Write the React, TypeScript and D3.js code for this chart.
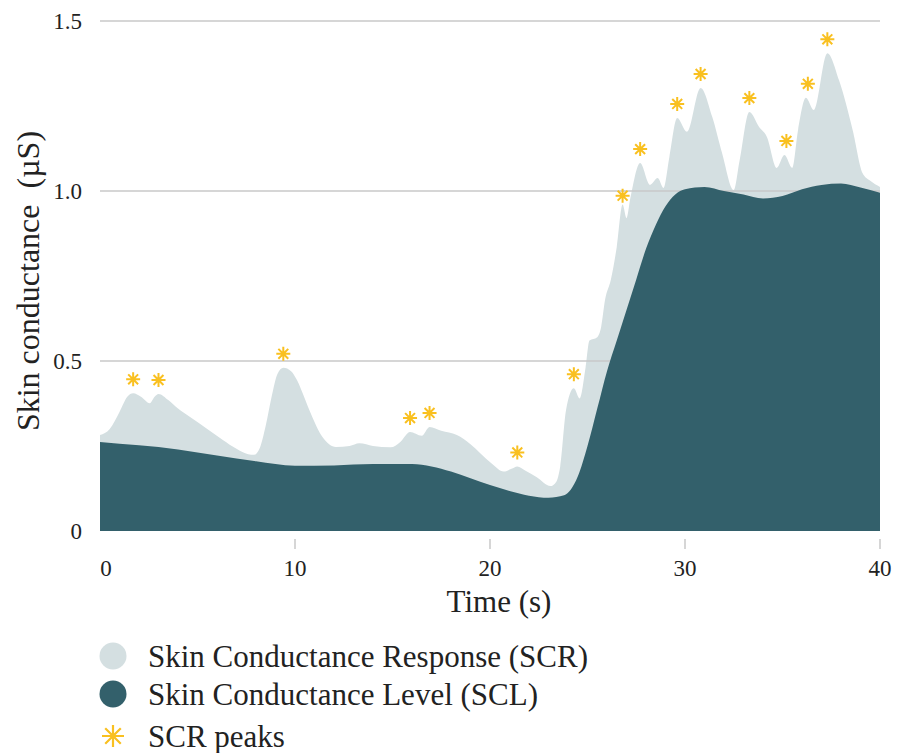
import React, { useEffect, useRef } from 'react';
import * as d3 from 'd3';

// SCR total signal (time in s, conductance in µS)
const scrTimes = [0, 0.5, 1.0, 1.4, 1.7, 2.1, 2.55, 2.8, 3.0, 3.5, 4.0, 4.6, 5.5, 6.3, 7.0, 7.6, 7.9, 8.2, 8.5, 8.8, 9.1, 9.4, 9.8, 10.1, 10.5, 10.8, 11.4, 12.1, 12.8, 13.3, 14.0, 14.9, 15.4, 15.9, 16.5, 16.9, 17.5, 18.3, 19.0, 19.5, 20.1, 20.7, 21.1, 21.4, 21.8, 22.4, 23.1, 23.4, 23.6, 23.9, 24.3, 24.6, 24.9, 25.1, 25.5, 25.7, 25.9, 26.2, 26.5, 26.8, 27.0, 27.2, 27.7, 28.2, 28.6, 28.9, 29.2, 29.6, 30.1, 30.8, 31.4, 31.9, 32.5, 32.8, 33.3, 33.8, 34.2, 34.7, 35.1, 35.5, 35.8, 36.2, 36.6, 37.3, 37.9, 38.6, 39.1, 39.5, 40.0];
const scrValues = [0.282, 0.3, 0.35, 0.395, 0.405, 0.395, 0.376, 0.395, 0.403, 0.385, 0.36, 0.336, 0.3, 0.268, 0.242, 0.226, 0.224, 0.245, 0.31, 0.395, 0.462, 0.48, 0.47, 0.444, 0.39, 0.347, 0.277, 0.247, 0.25, 0.258, 0.25, 0.246, 0.262, 0.291, 0.28, 0.306, 0.295, 0.282, 0.255, 0.229, 0.198, 0.175, 0.183, 0.19, 0.178, 0.158, 0.132, 0.145, 0.19, 0.356, 0.42, 0.39, 0.48, 0.56, 0.57, 0.6, 0.68, 0.74, 0.835, 0.96, 0.92, 0.98, 1.082, 1.018, 1.038, 1.009, 1.1, 1.215, 1.174, 1.303, 1.218, 1.112, 1.003, 1.09, 1.232, 1.188, 1.159, 1.068, 1.106, 1.068, 1.18, 1.274, 1.238, 1.405, 1.326, 1.179, 1.053, 1.03, 1.012];

// SCL tonic level
const sclTimes = [0, 2, 4, 6, 8, 10, 12, 14, 16, 17, 18, 19, 20, 21, 22, 23, 23.8, 24.5, 25, 25.5, 26, 26.5, 27, 27.5, 28, 28.5, 29, 29.5, 30, 31, 32, 33, 34, 35, 36, 37, 38, 39, 40];
const sclValues = [0.262, 0.252, 0.24, 0.222, 0.205, 0.192, 0.193, 0.197, 0.197, 0.19, 0.175, 0.155, 0.135, 0.118, 0.104, 0.098, 0.105, 0.16, 0.25, 0.36, 0.47, 0.56, 0.65, 0.74, 0.83, 0.9, 0.955, 0.99, 1.005, 1.012, 1.0, 0.99, 0.978, 0.985, 1.005, 1.018, 1.022, 1.01, 0.995];

// detected SCR peaks
const peakTimes = [1.7, 3.0, 9.4, 15.9, 16.9, 21.4, 24.3, 26.8, 27.7, 29.6, 30.8, 33.3, 35.2, 36.3, 37.3];
const peakValues = [0.405, 0.403, 0.48, 0.291, 0.306, 0.19, 0.42, 0.945, 1.082, 1.215, 1.303, 1.232, 1.106, 1.274, 1.405];

const xTicks = [0, 10, 20, 30, 40];
const yTicks = [0, 0.5, 1.0, 1.5];

const legendLabels = ['Skin Conductance Response (SCR)', 'Skin Conductance Level (SCL)', 'SCR peaks'];

const LIGHT = '#d4dfe1';
const DARK = '#33606b';
const GOLD = '#f9c020';
const FONT = "'Liberation Serif', 'Times New Roman', 'DejaVu Serif', serif";

function starPath(r: number) {
  const d = r * 0.7071;
  return `M${-r},0L${r},0M0,${-r}L0,${r}M${-d},${-d}L${d},${d}M${-d},${d}L${d},${-d}`;
}

export default function App() {
  const ref = useRef<SVGSVGElement>(null);

  useEffect(() => {
    const svg = d3.select(ref.current);
    svg.selectAll('*').remove();

    const x = d3.scaleLinear().domain([0, 40]).range([100, 880]);
    const y = d3.scaleLinear().domain([0, 1.5]).range([531, 21]);

    const scr = scrTimes.map((t, i) => [t, scrValues[i]] as [number, number]);
    const scl = sclTimes.map((t, i) => [t, sclValues[i]] as [number, number]);

    const area = d3.area<[number, number]>()
      .x(d => x(d[0]))
      .y0(y(0))
      .y1(d => y(d[1]))
      .curve(d3.curveMonotoneX);

    svg.append('path').attr('d', area(scr)).attr('fill', LIGHT);

    // grid
    svg.selectAll('line.grid')
      .data(yTicks.filter(v => v > 0))
      .enter()
      .append('line')
      .attr('x1', x(0))
      .attr('x2', x(40))
      .attr('y1', d => y(d))
      .attr('y2', d => y(d))
      .attr('stroke', '#c8c8c8')
      .attr('stroke-width', 1.5);

    svg.append('path').attr('d', area(scl)).attr('fill', DARK);

    // peaks
    svg.selectAll('path.peak')
      .data(peakTimes)
      .enter()
      .append('path')
      .attr('d', starPath(7))
      .attr('transform', (d, i) => `translate(${x(d)},${y(peakValues[i]) - 14})`)
      .attr('stroke', GOLD)
      .attr('stroke-width', 2)
      .attr('fill', 'none');

    const txt = svg.append('g').style('font-family', FONT).attr('fill', '#222');

    // y axis labels
    txt.selectAll('text.ytick')
      .data(yTicks)
      .enter()
      .append('text')
      .attr('x', 82)
      .attr('y', d => y(d))
      .attr('dy', '0.35em')
      .attr('text-anchor', 'end')
      .style('font-size', '23px')
      .text(d => (d === 0 ? '0' : d3.format('.1f')(d)));

    // x axis ticks + labels
    svg.selectAll('line.xtick')
      .data(xTicks.filter(v => v > 0))
      .enter()
      .append('line')
      .attr('x1', d => x(d))
      .attr('x2', d => x(d))
      .attr('y1', 539)
      .attr('y2', 549)
      .attr('stroke', '#c8c8c8')
      .attr('stroke-width', 1.5);

    txt.selectAll('text.xtick')
      .data(xTicks)
      .enter()
      .append('text')
      .attr('x', d => x(d) + (d === 0 ? 6 : 0))
      .attr('y', 568)
      .attr('dy', '0.35em')
      .attr('text-anchor', 'middle')
      .style('font-size', '23px')
      .text(d => d);

    txt.append('text')
      .attr('x', 499)
      .attr('y', 601)
      .attr('dy', '0.35em')
      .attr('text-anchor', 'middle')
      .style('font-size', '31px')
      .text('Time (s)');

    txt.append('text')
      .attr('transform', 'translate(28,281) rotate(-90)')
      .attr('dy', '0.35em')
      .attr('text-anchor', 'middle')
      .style('font-size', '32px')
      .style('white-space', 'pre')
      .text('Skin conductance  (µS)');

    // legend
    const legendY = [656, 694, 736];
    const lg = svg.append('g');
    lg.append('circle').attr('cx', 113).attr('cy', legendY[0]).attr('r', 13.5).attr('fill', LIGHT);
    lg.append('circle').attr('cx', 113).attr('cy', legendY[1]).attr('r', 13.5).attr('fill', DARK);
    lg.append('path')
      .attr('d', starPath(11))
      .attr('transform', `translate(113,${legendY[2]})`)
      .attr('stroke', GOLD)
      .attr('stroke-width', 2.2)
      .attr('fill', 'none');
    txt.selectAll('text.legend')
      .data(legendLabels)
      .enter()
      .append('text')
      .attr('x', 148)
      .attr('y', (d, i) => legendY[i])
      .attr('dy', '0.35em')
      .style('font-size', '31px')
      .text(d => d);
  }, []);

  return (
    <svg ref={ref} width={900} height={753}
      style={{ position: 'absolute', left: 0, top: 0, background: '#fff' }} />
  );
}
